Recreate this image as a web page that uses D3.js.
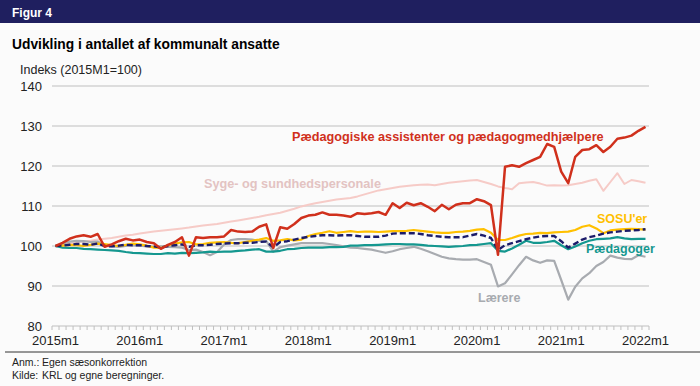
<!DOCTYPE html>
<html>
<head>
<meta charset="utf-8">
<script src="https://cdn.jsdelivr.net/npm/d3@7"></script>
<style>
  body { margin: 0; background: #fbfbfb; }
  svg { display: block; font-family: "Liberation Sans", Arial, sans-serif; }
</style>
</head>
<body>
<svg width="700" height="386"></svg>
<script>
// index 0 = 2015m1 ... 84 = 2022m1
var yearLabels = ["2015m1", "2016m1", "2017m1", "2018m1", "2019m1", "2020m1", "2021m1", "2022m1"];
var yTicks = [80, 90, 100, 110, 120, 130, 140];

var paedAssist = [100.0,100.8,101.8,102.4,102.7,102.3,103.0,99.8,100.4,101.2,
  101.8,101.4,101.6,101.0,100.7,99.3,100.3,101.0,102.2,97.6,
  102.2,102.0,102.2,102.2,102.4,104.0,103.6,103.5,103.6,104.8,
  105.4,99.5,104.7,104.3,105.5,107.0,107.6,107.8,108.4,107.8,
  107.8,107.6,107.3,108.2,108.0,108.2,108.5,107.8,110.7,109.5,
  110.8,110.2,110.7,109.8,108.7,110.3,109.2,110.3,110.7,110.7,
  111.7,111.2,110.2,97.8,119.8,120.2,119.8,120.7,121.5,122.3,
  125.5,124.8,118.6,115.7,122.3,124.0,124.2,125.2,123.5,124.8,
  126.8,127.1,127.6,128.8,129.8];

var sundhed = [100.0,100.3,100.6,100.9,101.1,101.3,101.6,101.8,102.0,102.3,
  102.6,102.8,103.1,103.4,103.6,103.8,104.0,104.2,104.4,104.6,
  104.9,105.1,105.3,105.5,105.8,106.1,106.4,106.7,107.0,107.3,
  107.7,108.0,108.3,108.8,109.3,109.9,110.3,110.7,111.0,111.3,
  111.6,111.8,112.0,112.4,112.9,113.4,113.9,114.2,114.5,114.8,
  115.0,115.2,115.3,115.4,115.2,115.5,115.8,116.0,116.2,116.4,
  116.5,116.0,115.5,114.9,114.5,114.2,115.7,115.9,116.0,115.6,
  115.1,115.2,115.1,115.2,115.5,115.8,116.3,116.7,113.8,116.0,
  118.2,115.5,116.5,116.2,115.8];

var sosu = [100.0,100.1,100.3,100.2,100.0,100.3,100.6,100.5,100.2,100.0,
  100.3,100.6,100.4,100.1,99.6,99.5,100.2,100.6,100.9,101.0,
  100.4,100.5,100.8,100.9,101.0,100.8,100.7,101.0,101.3,101.6,
  102.0,101.3,101.4,101.7,101.4,101.6,102.5,103.0,103.3,103.7,
  103.3,103.5,103.7,103.5,103.6,103.6,103.5,103.6,103.7,103.7,
  103.8,104.0,103.8,103.6,103.4,103.3,103.3,103.5,103.6,103.8,
  104.1,104.2,103.3,101.5,101.5,102.0,102.6,103.0,103.1,103.3,
  103.2,103.4,103.5,103.6,104.0,104.8,105.2,104.4,103.2,103.9,
  104.1,104.2,104.3,104.2,104.1];

var iAlt = [100.0,100.1,100.3,100.5,100.5,100.3,100.6,100.0,99.9,100.1,
  100.3,100.2,100.2,100.0,99.9,99.6,100.0,100.2,100.4,99.8,
  100.2,100.2,100.3,100.5,100.6,100.7,100.7,100.8,100.8,101.0,
  101.1,99.7,101.0,101.2,101.6,102.0,102.3,102.5,102.7,102.7,
  102.6,102.7,102.7,102.5,102.3,102.3,102.3,102.6,103.1,103.2,
  103.2,103.2,103.0,102.7,102.5,102.3,102.2,102.2,102.2,102.6,
  103.0,102.6,102.0,99.0,100.2,100.7,101.2,101.7,102.1,102.4,
  102.5,102.5,101.2,99.6,100.6,101.6,102.2,102.6,103.1,103.4,
  103.6,103.8,103.9,104.0,104.2];

var paedagoger = [100.0,99.6,99.5,99.5,99.3,99.2,99.1,99.0,98.9,98.8,
  98.5,98.3,98.2,98.1,98.0,98.0,98.2,98.1,98.3,98.2,
  98.3,98.4,98.6,98.5,98.6,98.6,98.8,98.9,99.1,99.2,
  98.6,98.6,98.8,99.2,99.3,99.5,99.6,99.6,99.6,99.7,
  99.7,99.8,100.1,100.1,100.2,100.2,100.3,100.4,100.5,100.5,
  100.4,100.4,100.3,100.1,100.0,99.9,99.8,99.9,100.0,100.2,
  100.3,100.5,100.7,98.8,98.6,99.4,100.3,101.3,100.8,100.8,
  101.0,101.3,100.2,99.2,99.9,100.7,101.3,101.7,101.8,101.9,
  102.2,101.9,101.7,101.8,101.8];

var laerere = [100.0,100.6,101.1,101.3,101.2,101.0,101.1,100.2,99.9,99.8,
  100.0,100.2,100.1,99.9,99.8,99.9,99.8,99.7,99.6,99.0,
  99.1,98.5,97.7,98.5,100.4,101.5,101.7,101.7,101.6,101.3,
  101.3,98.6,99.7,100.1,100.4,100.7,100.7,100.7,100.7,100.5,
  100.2,99.9,99.6,99.5,99.3,99.1,98.7,98.3,98.7,99.2,
  99.5,99.8,99.3,98.7,98.0,97.3,96.9,96.7,96.6,96.6,
  96.7,96.0,95.3,89.9,90.7,92.9,95.2,97.3,96.4,95.8,
  96.4,96.3,91.5,86.6,89.8,91.9,93.2,95.0,96.0,97.6,
  97.1,96.8,96.7,97.7,97.3];

var notes = [["Anm.:", "Egen sæsonkorrektion"], ["Kilde:", "KRL og egne beregninger."]];

var svg = d3.select("svg");
var W = 700;

// header bar
svg.append("rect").attr("x", 0).attr("y", 0).attr("width", W).attr("height", 23).attr("fill", "#1f1f5f");
svg.append("text").attr("x", 12).attr("y", 16.5).attr("fill", "#fff").style("font-weight", "bold").style("font-size", "12px").text("Figur 4");
svg.append("text").attr("x", 12).attr("y", 49).attr("fill", "#000").style("font-weight", "bold").style("font-size", "13.8px").text("Udvikling i antallet af kommunalt ansatte");
svg.append("text").attr("x", 20).attr("y", 74).attr("fill", "#222").style("font-size", "12.5px").text("Indeks (2015M1=100)");

var n = paedAssist.length;
var x = d3.scaleBand().domain(d3.range(n)).range([52, 649]);
var y = d3.scaleLinear().domain([80, 140]).range([326, 86]);
var cx = function (i) { return x(i) + x.bandwidth() / 2; };

// grid lines
svg.append("g").selectAll("line").data(yTicks.slice(1)).enter().append("line")
  .attr("x1", 52).attr("x2", 649).attr("y1", function (d) { return y(d); }).attr("y2", function (d) { return y(d); })
  .attr("stroke", "#bfbfbf").attr("stroke-width", 1.2);

// y axis labels
svg.append("g").selectAll("text").data(yTicks).enter().append("text")
  .attr("x", 42).attr("y", function (d) { return y(d) + 4.5; }).attr("text-anchor", "end")
  .attr("fill", "#222").style("font-size", "13px").text(function (d) { return d; });

// x axis with monthly ticks at category boundaries
svg.append("line").attr("x1", 52).attr("x2", 649).attr("y1", y(80)).attr("y2", y(80)).attr("stroke", "#bfbfbf").attr("stroke-width", 1.2);
svg.append("g").selectAll("line").data(d3.range(n + 1)).enter().append("line")
  .attr("x1", function (i) { return 52 + i * x.step(); }).attr("x2", function (i) { return 52 + i * x.step(); })
  .attr("y1", y(80)).attr("y2", y(80) + 4).attr("stroke", "#bfbfbf").attr("stroke-width", 1);
svg.append("g").selectAll("text").data(yearLabels).enter().append("text")
  .attr("x", function (d, i) { return cx(i * 12); }).attr("y", 345).attr("text-anchor", "middle")
  .attr("fill", "#222").style("font-size", "13px").text(function (d) { return d; });

var line = d3.line().x(function (d, i) { return cx(i); }).y(function (d) { return y(d); });

var series = [
  { data: sundhed, color: "#f6cbc7", width: 2 },
  { data: laerere, color: "#a8abb0", width: 2.2 },
  { data: paedagoger, color: "#14978f", width: 2.2 },
  { data: sosu, color: "#ffc000", width: 2.2 },
  { data: iAlt, color: "#1c1c6a", width: 2.4, dash: "6,3" },
  { data: paedAssist, color: "#d0301c", width: 2.5 }
];

svg.append("g").selectAll("path").data(series).enter().append("path")
  .attr("d", function (s) { return line(s.data); })
  .attr("fill", "none").attr("stroke", function (s) { return s.color; })
  .attr("stroke-width", function (s) { return s.width; })
  .attr("stroke-dasharray", function (s) { return s.dash || null; })
  .attr("stroke-linejoin", "round");

// series labels
var lab = [
  { t: "Pædagogiske assistenter og pædagogmedhjælpere", x: 292, y: 141, c: "#d0301c", s: 12.7 },
  { t: "Syge- og sundhedspersonale", x: 204, y: 188, c: "#e3c3c2", s: 12.7 },
  { t: "SOSU'er", x: 597, y: 223, c: "#ffc000", s: 12.5 },
  { t: "Pædagoger", x: 586, y: 253, c: "#14978f", s: 12.5 },
  { t: "Lærere", x: 478, y: 302, c: "#a8abb0", s: 12.5 }
];
svg.append("g").selectAll("text").data(lab).enter().append("text")
  .attr("x", function (d) { return d.x; }).attr("y", function (d) { return d.y; })
  .attr("fill", function (d) { return d.c; }).style("font-weight", "bold")
  .style("font-size", function (d) { return d.s + "px"; })
  .text(function (d) { return d.t; });

// footer
svg.append("line").attr("x1", 5).attr("x2", W).attr("y1", 352).attr("y2", 352).attr("stroke", "#333").attr("stroke-width", 1);
var nt = svg.append("g").style("font-family", "'Liberation Sans Narrow', 'Liberation Sans', sans-serif")
  .style("font-size", "10.5px").attr("fill", "#222");
nt.selectAll("text.k").data(notes).enter().append("text").attr("class", "k")
  .attr("x", 12).attr("y", function (d, i) { return 366 + i * 13; }).text(function (d) { return d[0]; });
nt.selectAll("text.v").data(notes).enter().append("text").attr("class", "v")
  .attr("x", 42).attr("y", function (d, i) { return 366 + i * 13; }).text(function (d) { return d[1]; });
</script>
</body>
</html>
